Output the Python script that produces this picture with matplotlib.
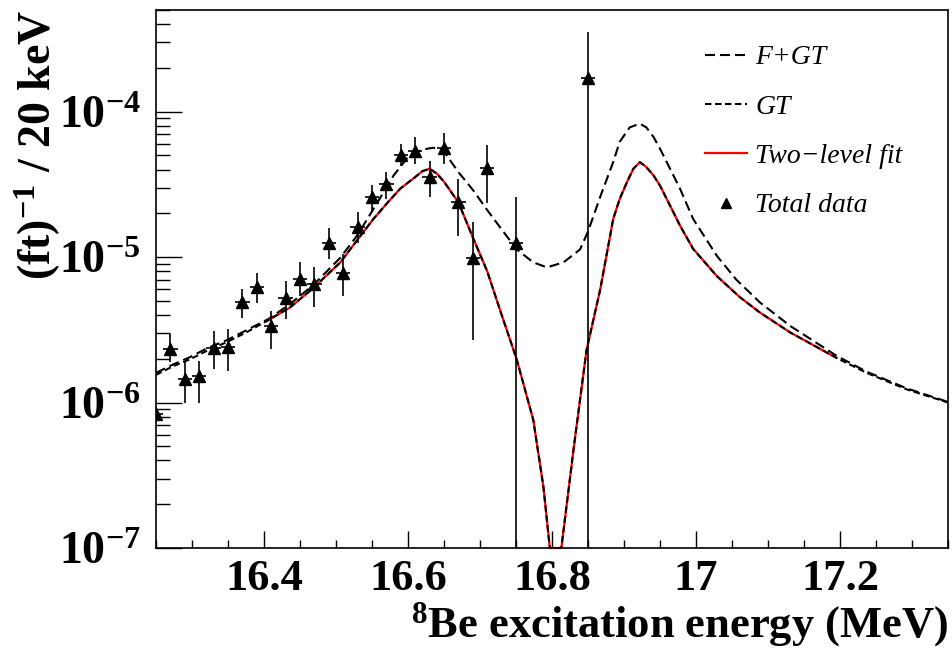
import numpy as np
import matplotlib
matplotlib.use("Agg")
import matplotlib.pyplot as plt
from matplotlib.lines import Line2D
from matplotlib.ticker import LogLocator, MultipleLocator, NullFormatter, FuncFormatter

plt.rcParams['font.family'] = ['Liberation Serif', 'DejaVu Serif']
plt.rcParams['font.weight'] = 'bold'
plt.rcParams['mathtext.fontset'] = 'custom'
plt.rcParams['mathtext.rm'] = 'Liberation Serif:bold'
plt.rcParams['mathtext.bf'] = 'Liberation Serif:bold'
plt.rcParams['mathtext.it'] = 'Liberation Serif:bold:italic'
plt.rcParams['mathtext.default'] = 'rm'

# --- data ---
# total data (20 keV bins), value and error bar ends
data_x = [16.25, 16.27, 16.29, 16.31, 16.33, 16.35, 16.37, 16.39, 16.41, 16.43,
          16.45, 16.47, 16.49, 16.51, 16.53, 16.55, 16.57, 16.59, 16.61, 16.63,
          16.65, 16.67, 16.69, 16.71, 16.75, 16.85]
data_y = [8.3e-7, 2.34e-6, 1.46e-6, 1.52e-6, 2.36e-6, 2.42e-6, 4.9e-6, 6.2e-6, 3.36e-6, 5.2e-6,
          7.05e-6, 6.5e-6, 1.25e-5, 7.8e-6, 1.6e-5, 2.58e-5, 3.17e-5, 5.05e-5, 5.4e-5, 3.55e-5,
          5.6e-5, 2.38e-5, 9.8e-6, 4.1e-5, 1.26e-5, 1.71e-4]
data_lo = [7.2e-7, 1.89e-6, 1.0e-6, 1.0e-6, 1.71e-6, 1.64e-6, 3.84e-6, 4.82e-6, 2.32e-6, 3.78e-6,
           5.41e-6, 4.57e-6, 9.7e-6, 5.41e-6, 1.26e-5, 2.03e-5, 2.51e-5, 4.26e-5, 4.37e-5, 2.58e-5,
           4.38e-5, 1.4e-5, 2.69e-6, 2.36e-5, 0.0, 0.0]
data_hi = [9.5e-7, 2.94e-6, 1.89e-6, 1.92e-6, 3.1e-6, 3.18e-6, 6.08e-6, 7.76e-6, 4.27e-6, 6.87e-6,
           9.19e-6, 8.49e-6, 1.58e-5, 1.05e-5, 2.03e-5, 3.14e-5, 3.87e-5, 6.0e-5, 6.68e-5, 4.61e-5,
           7.13e-5, 3.45e-5, 1.75e-5, 5.86e-5, 2.61e-5, 3.55e-4]
bin_half = 0.01

# F+GT curve
fgt_x = [16.25, 16.274, 16.297, 16.32, 16.348, 16.376, 16.406, 16.436, 16.468, 16.506,
         16.529, 16.552, 16.58, 16.598, 16.61, 16.621, 16.635, 16.649, 16.67, 16.691,
         16.709, 16.728, 16.751, 16.774, 16.793, 16.816, 16.839, 16.85, 16.867, 16.885,
         16.894, 16.908, 16.922, 16.931, 16.941, 16.95, 16.964, 16.978, 16.996, 17.029,
         17.056, 17.089, 17.131, 17.195, 17.237, 17.293, 17.35]
fgt_y = [1.6e-6, 1.83e-6, 2.05e-6, 2.35e-6, 2.68e-6, 3.15e-6, 3.75e-6, 4.75e-6, 6.4e-6, 9.9e-6,
         1.4e-5, 2.14e-5, 3.64e-5, 4.74e-5, 5.2e-5, 5.5e-5, 5.65e-5, 5.4e-5, 3.84e-5, 2.86e-5,
         2.14e-5, 1.6e-5, 1.13e-5, 9.2e-6, 8.5e-6, 9.2e-6, 1.13e-5, 1.5e-5, 2.6e-5, 4.5e-5,
         6.2e-5, 7.8e-5, 8.26e-5, 7.8e-5, 6.7e-5, 5.56e-5, 4.05e-5, 2.94e-5, 1.83e-5, 1.02e-5,
         7.0e-6, 4.87e-6, 3.36e-6, 2.1e-6, 1.63e-6, 1.25e-6, 1.01e-6]

# GT curve (the two-level fit is the same curve over the fit range)
gt_x = [16.25, 16.274, 16.297, 16.32, 16.348, 16.376, 16.404, 16.436, 16.468, 16.506,
        16.529, 16.552, 16.571, 16.589, 16.61, 16.62, 16.63, 16.64, 16.65, 16.67,
        16.691, 16.71, 16.728, 16.751, 16.774, 16.788, 16.797, 16.805, 16.813, 16.83,
        16.848, 16.867, 16.885, 16.894, 16.904, 16.913, 16.922, 16.931, 16.941, 16.95,
        16.964, 16.978, 16.996, 17.029, 17.061, 17.089, 17.131, 17.195, 17.237, 17.293, 17.35]
gt_y = [1.55e-6, 1.78e-6, 1.98e-6, 2.26e-6, 2.6e-6, 3.05e-6, 3.64e-6, 4.5e-6, 6.1e-6, 9.2e-6,
        1.3e-5, 1.83e-5, 2.35e-5, 2.95e-5, 3.55e-5, 3.9e-5, 4.05e-5, 3.75e-5, 3.3e-5, 2.38e-5,
        1.33e-5, 8.0e-6, 4.3e-6, 1.98e-6, 7.6e-7, 2.65e-7, 1e-7, 1e-7, 1e-7, 4.8e-7,
        2.3e-6, 6.0e-6, 1.83e-5, 2.51e-5, 3.27e-5, 4.05e-5, 4.5e-5, 4.16e-5, 3.64e-5, 3.1e-5,
        2.26e-5, 1.64e-5, 1.14e-5, 7.4e-6, 5.3e-6, 4.15e-6, 3.03e-6, 2.03e-6, 1.6e-6, 1.23e-6, 1.0e-6]
fit_range = (16.40, 17.20)

fig = plt.figure(figsize=(9.53, 6.49), dpi=100)
ax = fig.add_axes([156/953, 1-548/649, 792/953, 538/649])

long_dash = (4.8, 2.4)
short_dash = (3.1, 1.7)

gx = np.array(gt_x)
gy = np.array(gt_y)
infit = (gx >= fit_range[0]) & (gx <= fit_range[1])

ax.plot(fgt_x, fgt_y, color='k', lw=1.5, dashes=long_dash)
ax.plot(gx[infit], gy[infit], color='#ff0000', lw=1.6, clip_on=False)
ax.plot(gx, gy, color='k', lw=1.5, dashes=short_dash)

dy = np.array(data_y)
lo = np.maximum(np.array(data_lo), 1e-12)
hi = np.array(data_hi)
ax.errorbar(data_x, dy, yerr=[dy - lo, hi - dy], xerr=bin_half, fmt='^', color='k',
            ms=8, elinewidth=1.2, capsize=0)

ax.set_yscale('log')
ax.set_xlim(16.25, 17.35)
ax.set_ylim(1e-7, 5e-4)

ax.xaxis.set_major_locator(MultipleLocator(0.2))
ax.xaxis.set_minor_locator(MultipleLocator(0.05))
ax.xaxis.set_major_formatter(FuncFormatter(lambda v, p: '%g' % round(v, 3)))
ax.yaxis.set_major_locator(LogLocator(base=10, numticks=10))
ax.yaxis.set_minor_locator(LogLocator(base=10, subs=np.arange(2, 10), numticks=20))
ax.yaxis.set_minor_formatter(NullFormatter())

ax.tick_params(axis='x', which='major', direction='in', length=12, width=1, pad=8,
               labelsize=32, top=False)
ax.tick_params(axis='x', which='minor', direction='in', length=6, width=1, top=False)
ax.tick_params(axis='y', which='major', direction='in', length=19, width=1, pad=11,
               labelsize=33, right=False)
ax.tick_params(axis='y', which='minor', direction='in', length=10, width=1, right=False)
for s in ax.spines.values():
    s.set_linewidth(1.2)

fig.text(38/953, 1-10/649, r'(ft)$^{-1}$ / 20 keV', rotation=90, ha='center', va='top',
         fontsize=33, fontweight='bold')
fig.text(948/953, 1-625/649, r'$^{8}$Be excitation energy (MeV)', ha='right', va='center',
         fontsize=32, fontweight='bold')

handles = [Line2D([], [], color='k', lw=1.5, dashes=long_dash),
           Line2D([], [], color='k', lw=1.5, dashes=short_dash),
           Line2D([], [], color='#ff0000', lw=1.6),
           Line2D([], [], color='k', ls='none', marker='^', ms=7)]
labels = ['F+GT', 'GT', 'Two\u2212level fit', 'Total data']
ax.legend(handles, labels, loc='upper left', bbox_to_anchor=(705/953, 1-45/649),
          bbox_transform=fig.transFigure, frameon=False,
          prop={'family': 'Liberation Serif', 'style': 'italic', 'weight': 'normal', 'size': 20},
          handlelength=1.5, handletextpad=0.3, labelspacing=0.86,
          borderpad=0, borderaxespad=0)

fig.savefig('out.png', dpi=100)
